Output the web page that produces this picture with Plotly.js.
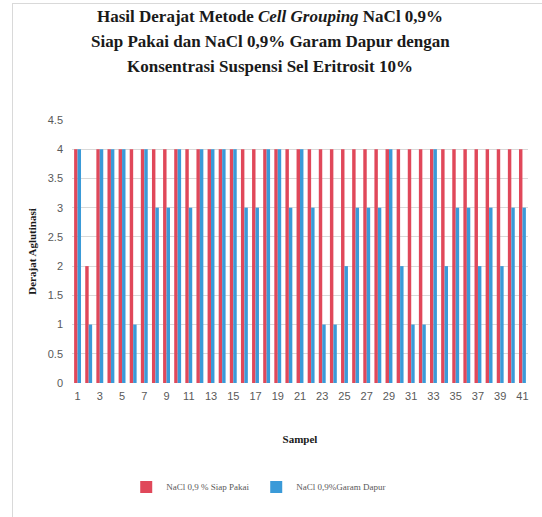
<!DOCTYPE html>
<html>
<head>
<meta charset="utf-8">
<script src="https://cdn.plot.ly/plotly-3.0.1.min.js"></script>
<style>
  html, body { margin: 0; padding: 0; background: #ffffff; }
  #wrap { position: relative; width: 542px; height: 517px; }
  #frame { position: absolute; left: 12px; top: 3px; right: -2px; bottom: -2px;
           border-left: 1px solid #d9d9d9; border-top: 1px solid #d9d9d9; pointer-events: none; }
  #chart { width: 542px; height: 517px; }
</style>
</head>
<body>
<div id="wrap">
  <div id="chart"></div>
  <div id="frame"></div>
</div>
<script>
// Sample numbers 1..41
const samples = [1,2,3,4,5,6,7,8,9,10,11,12,13,14,15,16,17,18,19,20,
                 21,22,23,24,25,26,27,28,29,30,31,32,33,34,35,36,37,38,39,40,41];

// Agglutination grade, NaCl 0,9% ready-made
const siapPakai = [4,2,4,4,4,4,4,4,4,4,4,4,4,4,4,4,4,4,4,4,
                   4,4,4,4,4,4,4,4,4,4,4,4,4,4,4,4,4,4,4,4,4];

// Agglutination grade, NaCl 0,9% from kitchen salt
const garamDapur = [4,1,4,4,4,1,4,3,3,4,3,4,4,4,4,3,3,4,4,3,
                    4,3,1,1,2,3,3,3,4,2,1,1,4,2,3,3,2,3,2,3,3];

const xTicks = [1,3,5,7,9,11,13,15,17,19,21,23,25,27,29,31,33,35,37,39,41];
const yTicks = [0,0.5,1,1.5,2,2.5,3,3.5,4,4.5];

const titleLines = [
  'Hasil Derajat Metode <i>Cell Grouping</i> NaCl 0,9%',
  'Siap Pakai dan NaCl 0,9% Garam Dapur dengan',
  'Konsentrasi Suspensi Sel Eritrosit 10%'
];

const serif = 'Liberation Serif';
const narrow = 'Liberation Sans Narrow, Liberation Sans, sans-serif';

const traces = [
  { type: 'bar', name: 'NaCl 0,9 % Siap Pakai', x: samples, y: siapPakai,
    marker: { color: '#e0485a' } },
  { type: 'bar', name: 'NaCl 0,9%Garam Dapur', x: samples, y: garamDapur,
    marker: { color: '#3a9ad8' } }
];

// Title drawn line by line so the line spacing can be set
const W = 542, H = 517, ML = 72, MR = 14, MT = 120, MB = 134;
const titleCentreX = 270;
const lineCentres = [17, 42, 67];
const annotations = titleLines.map((t, i) => ({
  text: '<b>' + t + '</b>',
  xref: 'paper', yref: 'paper',
  x: (titleCentreX - ML) / (W - ML - MR), xanchor: 'center',
  y: 1 + (MT - lineCentres[i]) / (H - MT - MB), yanchor: 'middle',
  showarrow: false,
  font: { family: serif, size: 17, color: '#1a1a1a' }
}));

const layout = {
  width: W, height: H,
  margin: { l: ML, r: MR, t: MT, b: MB },
  paper_bgcolor: '#ffffff',
  plot_bgcolor: '#ffffff',
  barmode: 'group',
  bargap: 0.38,
  bargroupgap: 0,
  annotations: annotations,
  xaxis: {
    type: 'linear', range: [0.5, 41.5],
    tickvals: xTicks, ticktext: xTicks.map(String),
    showgrid: false, zeroline: false, showline: false, ticks: '',
    ticklabelstandoff: 5,
    tickfont: { family: narrow, size: 11, color: '#595959' },
    title: { text: '<b>Sampel</b>', font: { family: serif, size: 11, color: '#1a1a1a' }, standoff: 34 }
  },
  yaxis: {
    range: [0, 4.5],
    tickvals: yTicks, ticktext: yTicks.map(String),
    showgrid: true, gridcolor: '#d9d9d9', gridwidth: 1,
    zeroline: false, showline: false, ticks: '',
    ticklabelstandoff: 8,
    tickfont: { family: narrow, size: 11, color: '#595959' },
    title: { text: '<b>Derajat Aglutinasi</b>', font: { family: serif, size: 11, color: '#1a1a1a' }, standoff: 8 }
  },
  showlegend: true,
  legend: {
    orientation: 'h', x: 0.404, xanchor: 'center', y: -0.395, yanchor: 'middle',
    font: { family: serif, size: 9, color: '#595959' },
    itemwidth: 30, entrywidth: 85, entrywidthmode: 'pixels'
  }
};

Plotly.newPlot('chart', traces, layout, { displayModeBar: false, staticPlot: true });
</script>
</body>
</html>
